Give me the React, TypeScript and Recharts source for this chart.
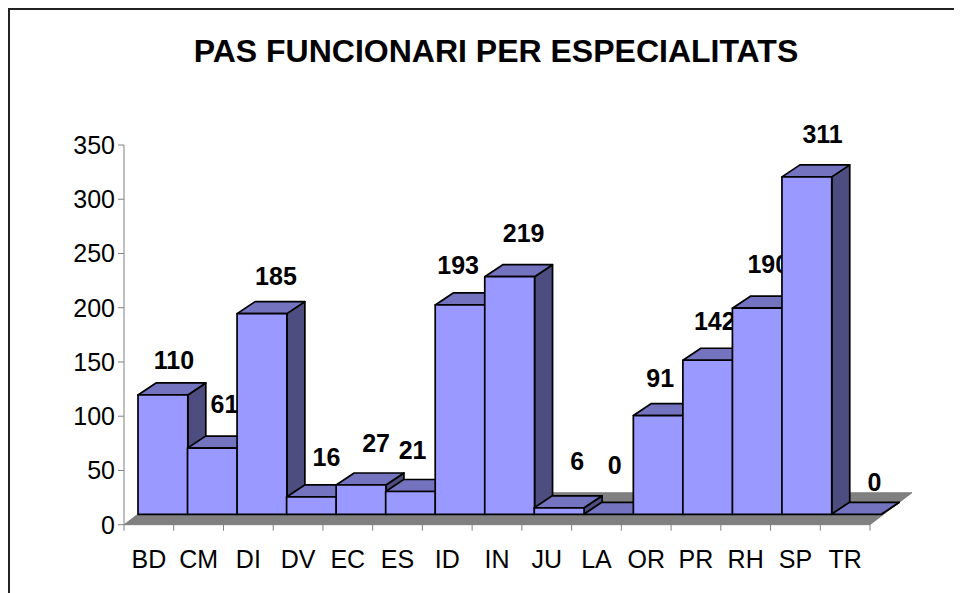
import React from "react";
import { BarChart, Bar, XAxis, YAxis, usePlotArea } from "recharts";

const categories = ["BD","CM","DI","DV","EC","ES","ID","IN","JU","LA","OR","PR","RH","SP","TR"];
const values = [110,61,185,16,27,21,193,219,6,0,91,142,190,311,0];
const yTicks = [0,50,100,150,200,250,300,350];
// Manual label placement relative to each bar (Excel nudges them individually)
const labelNudgeX = [11,12,14,15,15,2,-2,14,18,6,2,7,11,15.7,18];
const labelNudgeY = [35,44,38,40,42,42,40,44,47,49,38,39,44,42.7,32];

const rows = categories.map((name, i) => ({ name, value: values[i], i }));

const FONT = "'Liberation Sans', Arial, sans-serif";
const FRONT_DX = 14, FRONT_DY = 10.4, DEPTH_X = 18, DEPTH_Y = 12;
const FLOOR_DX = 42, FLOOR_DY = 32;
const PLOT_LEFT = 116, BAR_SQUEEZE = 0.996;

function Floor() {
  const p = usePlotArea();
  if (!p) return null;
  const b = p.y + p.height, l = p.x, r = p.x + p.width;
  const pts = `${l},${b} ${r},${b} ${r + FLOOR_DX},${b - FLOOR_DY} ${l + FLOOR_DX},${b - FLOOR_DY}`;
  return <polygon points={pts} fill="#808080" stroke="#707070" strokeWidth={0.75} />;
}

function Bar3D(props: any) {
  const { x, y, width, height, payload } = props;
  const fx = PLOT_LEFT + FRONT_DX + (x - PLOT_LEFT) * BAR_SQUEEZE;
  const w = width * BAR_SQUEEZE;
  const ty = y - FRONT_DY, by = y + height - FRONT_DY;
  const r = fx + w;
  const stroke = { stroke: "#000", strokeWidth: 1.7, strokeLinejoin: "round" as const };
  return (
    <g>
      <polygon points={`${r},${ty} ${r + DEPTH_X},${ty - DEPTH_Y} ${r + DEPTH_X},${by - DEPTH_Y} ${r},${by}`} fill="#4D4D80" {...stroke} />
      <polygon points={`${fx},${ty} ${fx + DEPTH_X},${ty - DEPTH_Y} ${r + DEPTH_X},${ty - DEPTH_Y} ${r},${ty}`} fill="#7373BF" {...stroke} />
      {height > 0 && <rect x={fx} y={ty} width={w} height={height} fill="#9999FF" {...stroke} />}
      <text
        x={fx + w / 2 + labelNudgeX[payload.i]}
        y={ty - labelNudgeY[payload.i]}
        textAnchor="middle"
        dominantBaseline="central"
        fontFamily={FONT}
        fontWeight="bold"
        fontSize={25}
        fill="#000"
      >
        {payload.value}
      </text>
    </g>
  );
}

function XTick(props: any) {
  const { x, payload, width, visibleTicksCount } = props;
  const band = width / visibleTicksCount;
  const top = 524.7 - 8;
  const left = x - band / 2;
  return (
    <g>
      <line x1={left} x2={left} y1={top} y2={top + 6} stroke="#808080" strokeWidth={1} />
      {payload.index === visibleTicksCount - 1 && (
        <line x1={left + band} x2={left + band} y1={top} y2={top + 6} stroke="#808080" strokeWidth={1} />
      )}
      <text x={x} y={top + 34} textAnchor="middle" dominantBaseline="central" fontFamily={FONT} fontSize={25} fill="#000">
        {payload.value}
      </text>
    </g>
  );
}

export default function App() {
  return (
    <div style={{ position: "relative", width: 954, height: 585 }}>
      <div style={{ position: "absolute", left: 0, top: 0, width: 954, height: 585, borderLeft: "2px solid #222", borderTop: "2px solid #222", boxSizing: "border-box" }} />
      <BarChart
        width={954}
        height={585}
        data={rows}
        barCategoryGap={0}
        margin={{ top: 137, right: 92, bottom: 38.3, left: 56 }}
        style={{ position: "absolute", left: 0, top: 0 }}
      >
        <text x={488} y={43} textAnchor="middle" dominantBaseline="central" fontFamily={FONT} fontWeight="bold" fontSize={32} fill="#000">
          PAS FUNCIONARI PER ESPECIALITATS
        </text>
        <Floor />
        <XAxis dataKey="name" height={30} interval={0} tickLine={false} axisLine={false} tick={<XTick />} />
        <YAxis
          width={60}
          domain={[0, 350]}
          ticks={yTicks}
          interval={0}
          stroke="#808080"
          tickSize={6}
          tickLine={{ stroke: "#808080" }}
          axisLine={{ stroke: "#808080" }}
          tick={{ fill: "#000", fontFamily: FONT, fontSize: 25 }}
          tickMargin={3}
        />
        <Bar dataKey="value" isAnimationActive={false} shape={<Bar3D />} />
      </BarChart>
    </div>
  );
}
